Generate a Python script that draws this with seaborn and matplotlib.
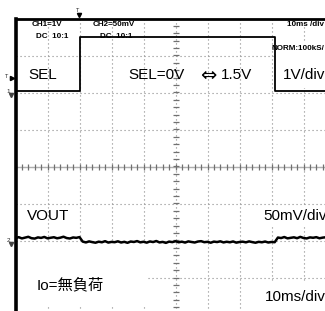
import numpy as np
import pandas as pd
import seaborn as sns
import matplotlib.pyplot as plt
from matplotlib.patches import Rectangle

# SEL (CH1, 1V/div) - time in ms from left edge of screen
sel_t = [0, 20, 20, 81, 81, 100]
sel_v = [0.05, 0.05, 1.5, 1.5, 0.05, 0.05]

# VOUT (CH2, 50mV/div) - sampled every 1 ms, mV relative to CH2 ground marker
vout_mv = [3.2, 4.5, 2.8, 3.9, 5.0, 3.1, 2.6, 4.2, 3.5, 4.8, 2.9, 3.7, 4.4, 3.0, 3.8, 5.1,
           3.3, 2.7, 4.1, 3.6, 4.6,
           -1.5, -2.6, -1.2, -2.2, -3.0, -1.6, -2.4, -0.9, -2.8, -1.9, -2.3, -1.1, -2.7, -1.8,
           -3.1, -1.4, -2.0, -0.8, -2.5, -1.7, -2.9, -1.3, -2.1, -0.7, -2.6, -1.9, -3.2, -1.5,
           -2.2, -1.0, -2.4, -1.6, -2.8, -1.2, -2.0, -2.7, -1.4, -0.9, -2.3, -1.8, -3.0, -1.5,
           -2.1, -1.1, -2.6, -1.7, -2.4, -1.3, -2.9, -2.0, -1.6, -2.5, -1.2, -2.2, -3.0, -1.8,
           -2.4, -1.4, -2.7, -2.0, -2.3,
           4.0, 3.3, 4.7, 2.9, 3.6, 4.3, 3.1, 4.9, 3.4, 2.8, 4.2, 3.7, 4.5, 3.0, 3.9, 4.4]

big_labels = ["SEL", "SEL=0V", "1.5V", "1V/div", "VOUT", "50mV/div", "Io=無負荷", "10ms/div"]
small_labels = ["CH1=1V", "DC  10:1", "CH2=50mV", "DC  10:1", "10ms /div", "NORM:100kS/"]

W, H = 325, 311

sns.set_style("white")
plt.rcParams['font.family'] = ['Liberation Sans', 'Noto Sans CJK JP', 'DejaVu Sans']

fig = plt.figure(figsize=(W / 100, H / 100), dpi=100)
# full 10x8 division screen, partly cut off at right/bottom
ax = fig.add_axes([15.5 / W, 1 - 314.5 / H, 320 / W, 296 / H])
ax.set_xlim(0, 100)
ax.set_ylim(-6, 2)
ax.set_xticks(np.arange(10, 100, 10))
ax.set_yticks(np.arange(-5, 2, 1))
ax.tick_params(length=0, labelleft=False, labelbottom=False)
ax.set_axisbelow(True)
ax.grid(True, linestyle=(0, (1, 2.6)), color='#8a8a8a', lw=0.8)
for s in ['right', 'bottom']:
    ax.spines[s].set_visible(False)
ax.spines['left'].set_linewidth(2.6)
ax.spines['top'].set_linewidth(2.0)
ax.spines['left'].set_color('black')
ax.spines['top'].set_color('black')

# center cross with minor ticks
ax.axhline(-2, color='#b0b0b0', lw=1.0, zorder=1)
ax.plot(np.arange(0, 100.1, 2), np.full(51, -2.0), ls='none', marker='|', ms=4, mew=0.9,
        color='#707070', zorder=1.2)
ax.plot(np.full(41, 50.0), np.arange(-6, 2.01, 0.2), ls='none', marker='_', ms=4, mew=0.9,
        color='#707070', zorder=1.2)


def fx(px):
    return px / W


def fy(py):
    return 1 - py / H


# white label backgrounds covering the grid
for x0, y0, x1, y1 in [(17, 243, 148, 306), (250, 282, 325, 311), (258, 207, 325, 226),
                       (276, 42, 325, 88)]:
    ax.add_patch(Rectangle((fx(x0), fy(y1)), (x1 - x0) / W, (y1 - y0) / H,
                           transform=fig.transFigure, facecolor='white', edgecolor='none',
                           zorder=2))

sns.lineplot(x=sel_t, y=sel_v, ax=ax, color='black', lw=1.3, estimator=None, sort=False,
             zorder=5)

ax2 = ax.twinx()
ax2.set_ylim(-100, 300)
ax2.set_yticks([])
for s in ax2.spines.values():
    s.set_visible(False)
sns.lineplot(x=np.arange(len(vout_mv)), y=vout_mv, ax=ax2, color='black', lw=1.8,
             estimator=None, sort=False)
ax2.set_ylabel('')

# big annotation texts (left px, center y px)
big_pos = [(28, 75), (128, 75), (221, 75), (283, 75), (27, 216), (263, 216), (37, 285),
           (265, 297)]
for t, (px, py) in zip(big_labels, big_pos):
    ax.text(fx(px), fy(py), t, transform=fig.transFigure, fontsize=11, va='center',
            ha='left', color='black', zorder=4)
ax.text(fx(208.5), fy(75), "\u21d4", transform=fig.transFigure, fontsize=14, va='center',
        ha='center', color='black', zorder=4, family=['DejaVu Sans'])

small_pos = [(32, 25), (36, 37), (93, 25), (100, 37), (287, 25), (272, 48)]
for t, (px, py) in zip(small_labels, small_pos):
    ax.text(fx(px), fy(py), t, transform=fig.transFigure, fontsize=5.8, fontweight='bold',
            va='center', ha='left', color='black', zorder=4)

# trigger / ground markers
ax.text(fx(78), fy(10), "T", transform=fig.transFigure, fontsize=4, ha='center', va='center')
ax.plot([fx(78.5)], [fy(15)], transform=fig.transFigure, marker='v', ms=3, color='black',
        clip_on=False)
ax.text(fx(7), fy(77), "T", transform=fig.transFigure, fontsize=4, ha='center', va='center')
ax.plot([fx(12)], [fy(78)], transform=fig.transFigure, marker='>', ms=3, color='black',
        clip_on=False)
ax.text(fx(8), fy(92), "1", transform=fig.transFigure, fontsize=4.5, ha='center', va='center')
ax.plot([fx(11)], [fy(95)], transform=fig.transFigure, marker='v', ms=3, color='#444444',
        clip_on=False)
ax.text(fx(8), fy(241), "2", transform=fig.transFigure, fontsize=4.5, ha='center', va='center')
ax.plot([fx(11)], [fy(244)], transform=fig.transFigure, marker='v', ms=3, color='#444444',
        clip_on=False)

fig.savefig('out.png', dpi=100)
